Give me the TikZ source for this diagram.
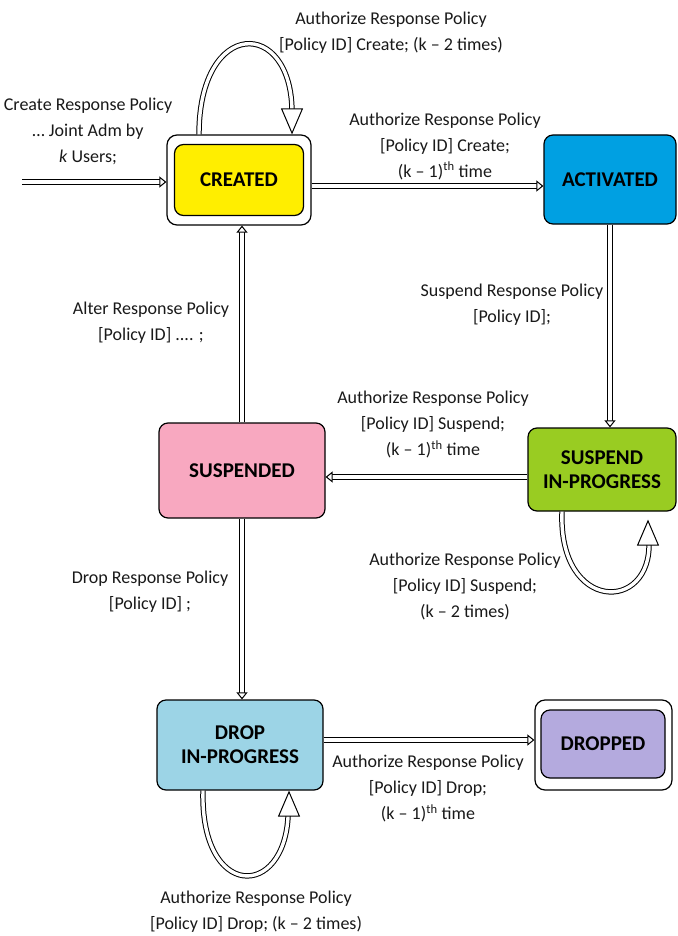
\documentclass[tikz,border=0pt]{standalone}
\usepackage{fontspec}
\setmainfont{Carlito}
\usetikzlibrary{arrows.meta,calc}
\definecolor{cyellow}{RGB}{255,238,0}
\definecolor{cblue}{RGB}{0,160,226}
\definecolor{cpink}{RGB}{248,168,192}
\definecolor{cgreen}{RGB}{153,204,34}
\definecolor{clblue}{RGB}{156,212,230}
\definecolor{clav}{RGB}{180,170,222}
\begin{document}
\begin{tikzpicture}[x=1pt,y=-1pt,
  outerbox/.style={draw=black, line width=1.2pt, rounded corners=10pt, fill=white, inner sep=0pt},
  statebox/.style={draw=black, line width=1.2pt, rounded corners=9pt, inner sep=0pt,
    font=\fontsize{21}{24}\selectfont\bfseries, align=center},
  lbl/.style={font=\fontsize{18}{26}\selectfont, align=center, inner sep=0pt, text=black!90},
  dbl/.style={draw, double=white, double distance=3.4pt, line width=1pt},
  smalltip/.style={draw, line width=1pt, -{Triangle[fill=white, length=7pt, width=11pt]}},
  bigtip/.style={draw, line width=1pt, -{Triangle[fill=white, length=26pt, width=22pt]}}
]
\useasboundingbox (0,0) rectangle (677,936);

% states
\node[outerbox, minimum width=144pt, minimum height=90pt] (created) at (239,180) {};
\node[statebox, fill=cyellow, minimum width=129pt, minimum height=71pt] (createdin) at (239,180) {CREATED};
\node[statebox, fill=cblue, minimum width=132pt, minimum height=89pt] (activated) at (610,179.5) {ACTIVATED};
\node[statebox, fill=cpink, minimum width=166pt, minimum height=95pt] (suspended) at (242,470.5) {SUSPENDED};
\node[statebox, fill=cgreen, minimum width=148pt, minimum height=83pt] (suspip) at (602,469.5) {SUSPEND\\IN-PROGRESS};
\node[statebox, fill=clblue, minimum width=166pt, minimum height=90pt] (dropip) at (240,745) {DROP\\IN-PROGRESS};
\node[outerbox, minimum width=137pt, minimum height=90pt] (dropped) at (603.5,745) {};
\node[statebox, fill=clav, minimum width=124pt, minimum height=68pt] (droppedin) at (603,744) {DROPPED};

% labels
\node[lbl] (l1) at (391,33) {Authorize Response Policy\\{}[Policy ID] Create; (k – 2 times)};
\node[lbl] (l2) at (88,131) {Create Response Policy\\… Joint Adm by\\\textit{k} Users;};
\node[lbl] (l3) at (445,146) {Authorize Response Policy\\{}[Policy ID] Create;\\(k – 1)\textsuperscript{th} time};
\node[lbl] (l4) at (512,305) {Suspend Response Policy\\{}[Policy ID];};
\node[lbl] (l5) at (151,323) {Alter Response Policy\\{}[Policy ID] .... ;};
\node[lbl] (l6) at (433,424.5) {Authorize Response Policy\\{}[Policy ID] Suspend;\\(k – 1)\textsuperscript{th} time};
\node[lbl] (l7) at (465,586) {Authorize Response Policy\\{}[Policy ID] Suspend;\\(k – 2 times)};
\node[lbl] (l8) at (150,592) {Drop Response Policy\\{}[Policy ID] ;};
\node[lbl] (l9) at (428,788.5) {Authorize Response Policy\\{}[Policy ID] Drop;\\(k – 1)\textsuperscript{th} time};
\node[lbl] (l10) at (256,912) {Authorize Response Policy\\{}[Policy ID] Drop; (k – 2 times)};

% coordinates
\coordinate (start) at (22,182);
\coordinate (ya) at (0,186);
\coordinate (yb) at (0,477);
\coordinate (yc) at (0,740);
\coordinate (e1) at (created.west |- start);
\coordinate (s2) at (created.east |- ya);
\coordinate (e2) at (activated.west |- ya);
\coordinate (e3) at (activated.south |- suspip.north);
\coordinate (s4) at (suspip.west |- yb);
\coordinate (e4) at (suspended.east |- yb);
\coordinate (e5) at (suspended.north |- created.south);
\coordinate (e6) at (suspended.south |- dropip.north);
\coordinate (s7) at (dropip.east |- yc);
\coordinate (e7) at (dropped.west |- yc);

% straight transitions
\draw[dbl, shorten >=6pt] (start) -- (e1);
\draw[smalltip] ($(e1)+(-1,0)$) -- (e1);
\draw[dbl, shorten >=6pt] (s2) -- (e2);
\draw[smalltip] ($(e2)+(-1,0)$) -- (e2);
\draw[dbl, shorten >=6pt] (activated.south) -- (e3);
\draw[smalltip] ($(e3)+(0,-1)$) -- (e3);
\draw[dbl, shorten >=6pt] (s4) -- (e4);
\draw[smalltip] ($(e4)+(1,0)$) -- (e4);
\draw[dbl, shorten >=6pt] (suspended.north) -- (e5);
\draw[smalltip] ($(e5)+(0,1)$) -- (e5);
\draw[dbl, shorten >=6pt] (suspended.south) -- (e6);
\draw[smalltip] ($(e6)+(0,-1)$) -- (e6);
\draw[dbl, shorten >=6pt] (s7) -- (e7);
\draw[smalltip] ($(e7)+(-1,0)$) -- (e7);

% self loops
\coordinate (c1s) at ([xshift=-40pt]created.north);
\coordinate (c1e) at ([xshift=53pt]created.north);
\draw[dbl, shorten >=22pt] (c1s) .. controls ($(c1s)+(0,-117)$) and ($(c1e)+(0,-117)$) .. (c1e);
\draw[bigtip] ($(c1e)+(0,-1)$) -- (c1e);

\coordinate (c2s) at ([xshift=-40pt]suspip.south);
\coordinate (c2e) at ([xshift=46pt,yshift=-8pt]suspip.south);
\draw[dbl, shorten >=22pt] (c2s) .. controls (558,613) and (652,613) .. (c2e);
\draw[bigtip] ($(c2e)+(0,1)$) -- (c2e);

\coordinate (c3s) at ([xshift=-37pt]dropip.south);
\coordinate (c3e) at ([xshift=49pt]dropip.south);
\draw[dbl, shorten >=24pt] (c3s) .. controls (200,900) and (285,900) .. (c3e);
\draw[bigtip] ($(c3e)+(0,1)$) -- (c3e);
\end{tikzpicture}
\end{document}
